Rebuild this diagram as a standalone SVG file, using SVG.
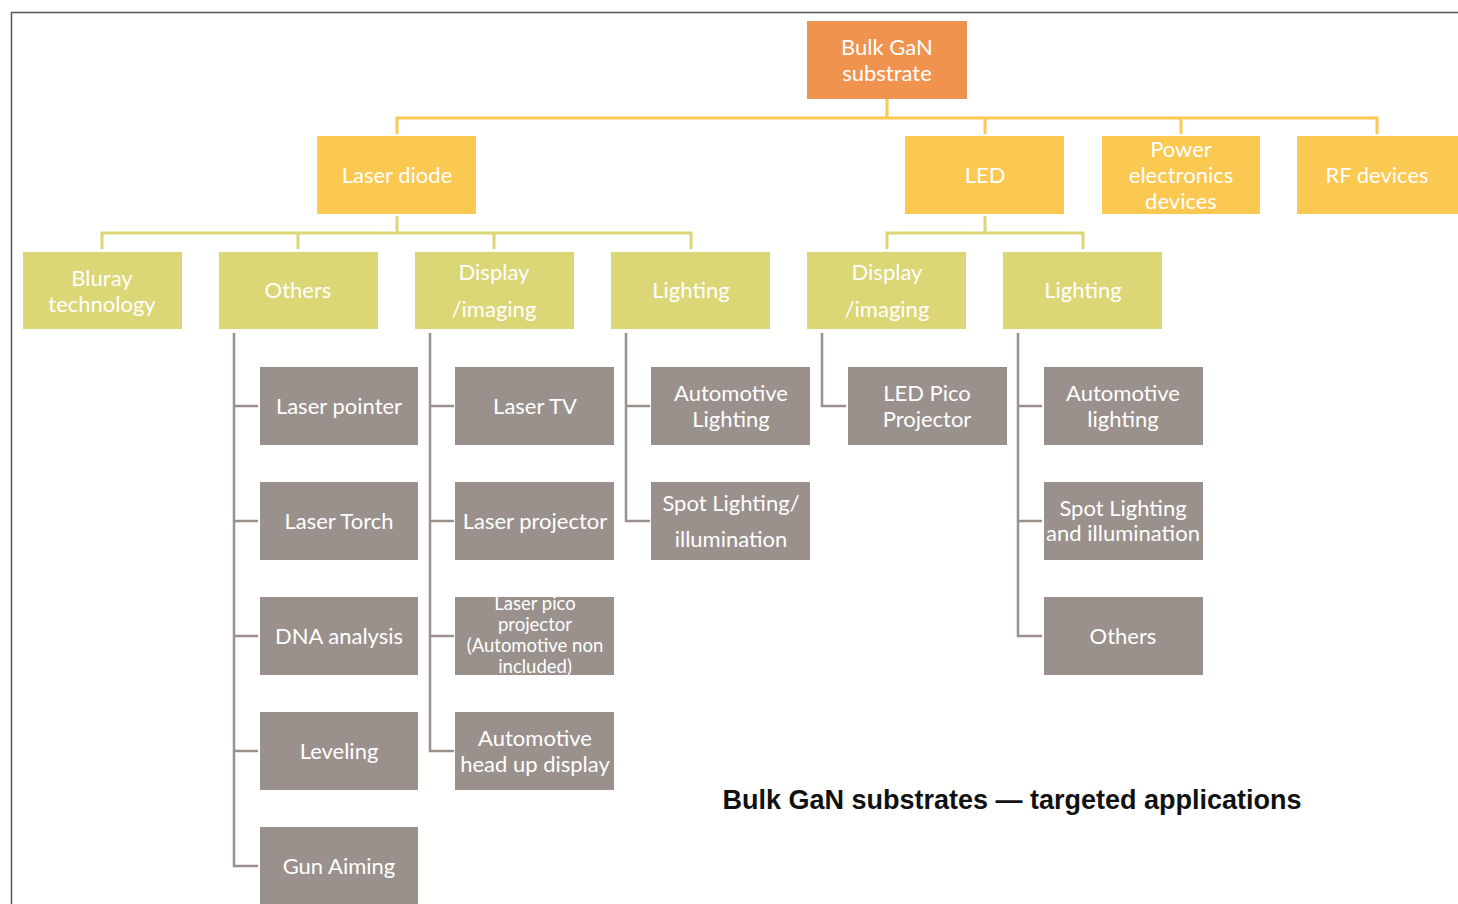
<svg xmlns="http://www.w3.org/2000/svg" width="1458" height="904" viewBox="0 0 1458 904">
<style>
.t{font-family:Lato,"Open Sans","Liberation Sans",sans-serif;font-size:22px;fill:#fff;text-anchor:middle}
.s{font-size:18.5px}
.root{fill:#EF934F}
.l1{fill:#FBC851}
.l2{fill:#DBD676}
.l3{fill:#9A918D}
.c1{stroke:#FBC851;stroke-width:3;fill:none}
.c2{stroke:#DBD676;stroke-width:3;fill:none}
.c3{stroke:#9A918D;stroke-width:2.5;fill:none}
</style>
<rect width="1458" height="904" fill="#fff"/>
<path d="M11.5 904 V12.5 H1458" stroke="#555" stroke-width="1.5" fill="none"/>
<g id="connectors">
<path class="c1" d="M887 99 V118 M397 134 V118 H1377 V134 M985 118 V134 M1181 118 V134"/>
<path class="c2" d="M397 216 V233 M102 249 V233 H691 V249 M298 233 V249 M494 233 V249"/>
<path class="c2" d="M985 216 V233 M887 249 V233 H1083 V249"/>
<path class="c3" d="M234 333 V866 H258 M234 406 H258 M234 521 H258 M234 636 H258 M234 751 H258"/>
<path class="c3" d="M430 333 V751 H454 M430 406 H454 M430 521 H454 M430 636 H454"/>
<path class="c3" d="M626 333 V521 H650 M626 406 H650"/>
<path class="c3" d="M822 333 V406 H846"/>
<path class="c3" d="M1018 333 V636 H1042 M1018 406 H1042 M1018 521 H1042"/>
</g>
<g id="root"><rect class="root" x="807" y="21" width="160" height="78"/><text class="t"><tspan x="887" y="55">Bulk GaN</tspan><tspan x="887" y="81">substrate</tspan></text></g>
<g id="laser-diode"><rect class="l1" x="317" y="136" width="159" height="78"/><text class="t" x="397" y="183">Laser diode</text></g>
<g id="led"><rect class="l1" x="905" y="136" width="159" height="78"/><text class="t" x="985" y="183">LED</text></g>
<g id="power"><rect class="l1" x="1102" y="136" width="158" height="78"/><text class="t"><tspan x="1181" y="157">Power</tspan><tspan x="1181" y="183">electronics</tspan><tspan x="1181" y="209">devices</tspan></text></g>
<g id="rf"><rect class="l1" x="1297" y="136" width="161" height="78"/><text class="t" x="1377" y="183">RF devices</text></g>
<g id="bluray"><rect class="l2" x="23" y="252" width="159" height="77"/><text class="t"><tspan x="102" y="286">Bluray</tspan><tspan x="102" y="312">technology</tspan></text></g>
<g id="ld-others"><rect class="l2" x="219" y="252" width="159" height="77"/><text class="t" x="298" y="298">Others</text></g>
<g id="ld-display"><rect class="l2" x="415" y="252" width="159" height="77"/><text class="t"><tspan x="494" y="280">Display</tspan><tspan x="494" y="317">/imaging</tspan></text></g>
<g id="ld-lighting"><rect class="l2" x="611" y="252" width="159" height="77"/><text class="t" x="691" y="298">Lighting</text></g>
<g id="led-display"><rect class="l2" x="807" y="252" width="159" height="77"/><text class="t"><tspan x="887" y="280">Display</tspan><tspan x="887" y="317">/imaging</tspan></text></g>
<g id="led-lighting"><rect class="l2" x="1003" y="252" width="159" height="77"/><text class="t" x="1083" y="298">Lighting</text></g>
<g id="laser-pointer"><rect class="l3" x="260" y="367" width="158" height="78"/><text class="t" x="339" y="414">Laser pointer</text></g>
<g id="laser-torch"><rect class="l3" x="260" y="482" width="158" height="78"/><text class="t" x="339" y="529">Laser Torch</text></g>
<g id="dna"><rect class="l3" x="260" y="597" width="158" height="78"/><text class="t" x="339" y="644">DNA analysis</text></g>
<g id="leveling"><rect class="l3" x="260" y="712" width="158" height="78"/><text class="t" x="339" y="759">Leveling</text></g>
<g id="gun"><rect class="l3" x="260" y="827" width="158" height="78"/><text class="t" x="339" y="874">Gun Aiming</text></g>
<g id="laser-tv"><rect class="l3" x="455" y="367" width="159" height="78"/><text class="t" x="535" y="414">Laser TV</text></g>
<g id="laser-projector"><rect class="l3" x="455" y="482" width="159" height="78"/><text class="t" x="535" y="529">Laser projector</text></g>
<g id="laser-pico"><rect class="l3" x="455" y="597" width="159" height="78"/><text class="t s"><tspan x="535" y="610">Laser pico</tspan><tspan x="535" y="631">projector</tspan><tspan x="535" y="652">(Automotive non</tspan><tspan x="535" y="673">included)</tspan></text></g>
<g id="hud"><rect class="l3" x="455" y="712" width="159" height="78"/><text class="t"><tspan x="535" y="746">Automotive</tspan><tspan x="535" y="772">head up display</tspan></text></g>
<g id="auto-lighting"><rect class="l3" x="651" y="367" width="159" height="78"/><text class="t"><tspan x="731" y="401">Automotive</tspan><tspan x="731" y="427">Lighting</tspan></text></g>
<g id="spot-lighting"><rect class="l3" x="651" y="482" width="159" height="78"/><text class="t"><tspan x="731" y="511">Spot Lighting/</tspan><tspan x="731" y="547">illumination</tspan></text></g>
<g id="led-pico"><rect class="l3" x="848" y="367" width="159" height="78"/><text class="t"><tspan x="927" y="401">LED Pico</tspan><tspan x="927" y="427">Projector</tspan></text></g>
<g id="led-auto"><rect class="l3" x="1044" y="367" width="159" height="78"/><text class="t"><tspan x="1123" y="401">Automotive</tspan><tspan x="1123" y="427">lighting</tspan></text></g>
<g id="led-spot"><rect class="l3" x="1044" y="482" width="159" height="78"/><text class="t"><tspan x="1123" y="516">Spot Lighting</tspan><tspan x="1123" y="541">and illumination</tspan></text></g>
<g id="led-others"><rect class="l3" x="1044" y="597" width="159" height="78"/><text class="t" x="1123" y="644">Others</text></g>
<text x="1012" y="809" font-family="'Liberation Sans',Arial,sans-serif" font-weight="bold" font-size="27" text-anchor="middle" fill="#111">Bulk GaN substrates — targeted applications</text>
</svg>
